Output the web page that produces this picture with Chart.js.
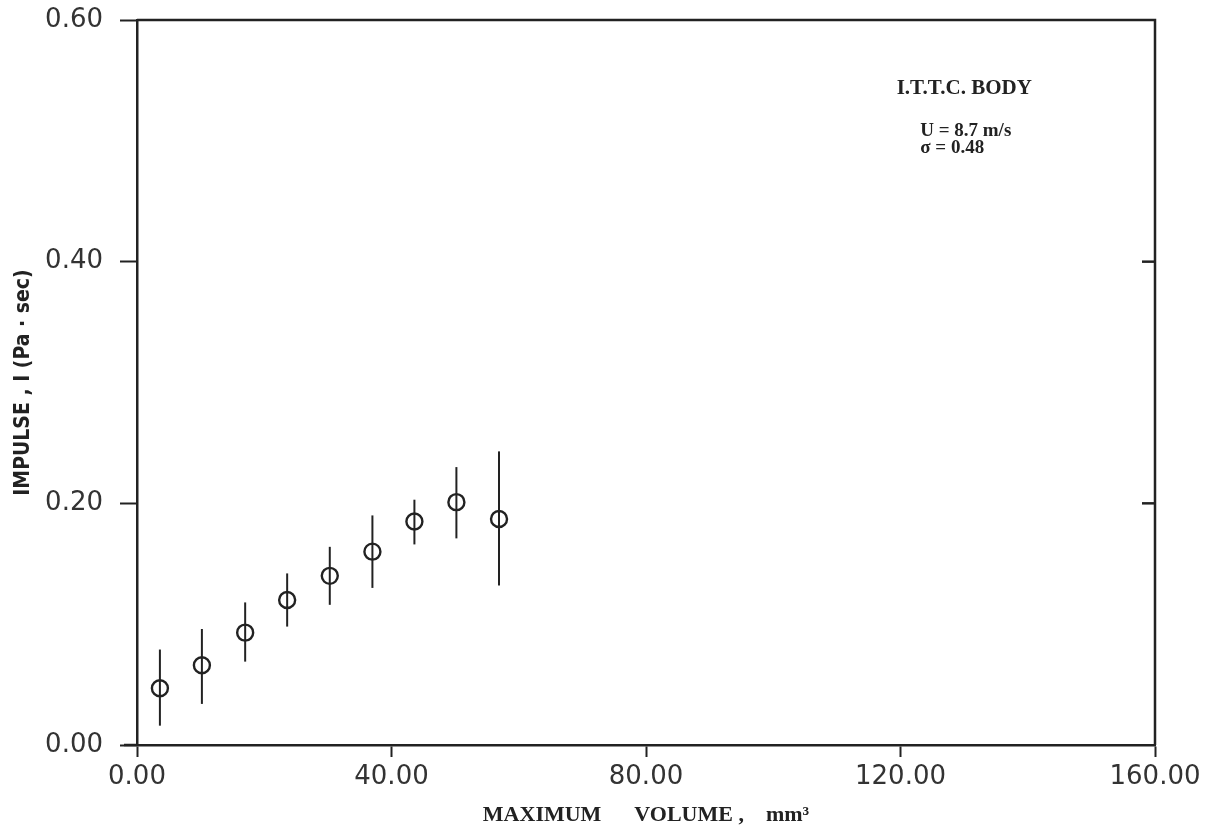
<!DOCTYPE html>
<html lang="en">
<head>
    <meta charset="UTF-8">
    <title>Impulse vs maximum volume</title>
    <script src="https://cdn.jsdelivr.net/npm/chart.js"></script>
    <style>
        html, body { margin: 0; padding: 0; background: #fff; }
        #wrap { width: 1211px; height: 832px; }
    </style>
</head>
<body>
<div id="wrap"><canvas id="impulseChart"></canvas></div>
<script>
    // values
    const volume  = [3.6, 10.2, 17.0, 23.6, 30.3, 37.0, 43.6, 50.2, 56.9];
    const impulse = [0.047, 0.066, 0.093, 0.120, 0.140, 0.160, 0.185, 0.201, 0.187];
    const errLow  = [0.016, 0.034, 0.069, 0.098, 0.116, 0.130, 0.166, 0.171, 0.132];
    const errHigh = [0.079, 0.096, 0.118, 0.142, 0.164, 0.190, 0.203, 0.230, 0.243];

    const xTicks = [0, 40, 80, 120, 160];
    const yTicks = [0, 0.2, 0.4, 0.6];

    const noteLines = [
        { text: 'I.T.T.C. BODY', x: 119.4, y: 0.543, size: 21 },
        { text: 'U = 8.7 m/s',   x: 123.1, y: 0.508, size: 19 },
        { text: 'σ = 0.48',      x: 123.1, y: 0.494, size: 19 }
    ];

    const ink = '#222';

    // vertical error bars, frame, inward right ticks and the note
    const extras = {
        id: 'extras',
        afterDatasetsDraw(chart) {
            const { ctx, scales: { x, y }, chartArea: a } = chart;
            ctx.save();
            ctx.strokeStyle = ink;
            ctx.lineWidth = 2;
            volume.forEach((v, i) => {
                const px = x.getPixelForValue(v);
                ctx.beginPath();
                ctx.moveTo(px, y.getPixelForValue(errLow[i]));
                ctx.lineTo(px, y.getPixelForValue(errHigh[i]));
                ctx.stroke();
            });
            ctx.lineWidth = 2.5;
            ctx.beginPath();
            ctx.moveTo(a.left, a.top);
            ctx.lineTo(a.right, a.top);
            ctx.lineTo(a.right, a.bottom);
            ctx.stroke();
            yTicks.slice(1, -1).forEach(t => {
                const py = y.getPixelForValue(t);
                ctx.beginPath();
                ctx.moveTo(a.right - 13, py);
                ctx.lineTo(a.right, py);
                ctx.stroke();
            });
            // x axis runs a little past the y axis
            ctx.beginPath();
            ctx.moveTo(a.left - 13, a.bottom);
            ctx.lineTo(a.left, a.bottom);
            ctx.stroke();
            ctx.fillStyle = ink;
            ctx.textBaseline = 'middle';
            noteLines.forEach(n => {
                ctx.font = 'bold ' + n.size + 'px "Liberation Serif", serif';
                ctx.fillText(n.text, x.getPixelForValue(n.x), y.getPixelForValue(n.y));
            });
            ctx.restore();
        }
    };

    new Chart(document.getElementById('impulseChart'), {
        type: 'scatter',
        data: {
            datasets: [{
                data: volume.map((v, i) => ({ x: v, y: impulse[i] })),
                pointStyle: 'circle',
                pointRadius: 8,
                pointBorderWidth: 2.4,
                pointBackgroundColor: 'rgba(0,0,0,0)',
                pointBorderColor: ink
            }]
        },
        options: {
            responsive: true,
            maintainAspectRatio: false,
            animation: false,
            layout: { padding: { top: 20, right: 56, left: 0, bottom: 0 } },
            plugins: { legend: { display: false }, tooltip: { enabled: false } },
            scales: {
                x: {
                    type: 'linear',
                    min: 0,
                    max: 160,
                    afterBuildTicks: s => { s.ticks = xTicks.map(v => ({ value: v })); },
                    afterFit: s => { s.height = 87; s.paddingLeft = 0; s.paddingRight = 0; },
                    grid: { drawOnChartArea: false, tickLength: 12, tickWidth: 2, tickColor: ink },
                    border: { color: ink, width: 2.5 },
                    ticks: {
                        padding: 5,
                        color: '#333',
                        font: { family: '"DejaVu Sans", sans-serif', size: 26 },
                        callback: v => v.toFixed(2),
                        maxRotation: 0
                    },
                    title: {
                        display: true,
                        text: 'MAXIMUM      VOLUME ,    mm³',
                        color: ink,
                        font: { family: '"Liberation Serif", serif', size: 22, weight: 'bold' },
                        padding: { top: 0, bottom: 3 }
                    }
                },
                y: {
                    type: 'linear',
                    min: 0,
                    max: 0.6,
                    afterBuildTicks: s => { s.ticks = yTicks.map(v => ({ value: v })); },
                    afterFit: s => { s.width = 137; s.paddingTop = 0; s.paddingBottom = 0; },
                    grid: { drawOnChartArea: false, tickLength: 17, tickWidth: 2, tickColor: ink },
                    border: { color: ink, width: 2.5 },
                    ticks: {
                        padding: 17,
                        color: '#333',
                        font: { family: '"DejaVu Sans", sans-serif', size: 26 },
                        callback: v => v.toFixed(2)
                    },
                    title: {
                        display: true,
                        text: 'IMPULSE , I (Pa · sec)',
                        color: ink,
                        font: { family: '"DejaVu Sans Condensed", "Liberation Sans Narrow", sans-serif', size: 21, weight: 'bold' },
                        padding: { top: 11, bottom: 0 }
                    }
                }
            }
        },
        plugins: [extras]
    });
</script>
</body>
</html>
